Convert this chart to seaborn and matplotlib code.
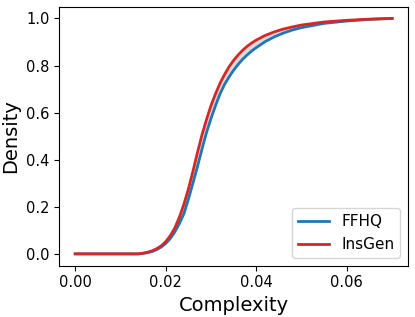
import numpy as np
import pandas as pd
import matplotlib
matplotlib.use("Agg")
import matplotlib.pyplot as plt
import seaborn as sns

# cumulative density of image complexity
complexity = [0.0, 0.005, 0.01, 0.014, 0.015, 0.016, 0.017, 0.018, 0.019,
              0.020, 0.021, 0.022, 0.023, 0.024, 0.025, 0.026, 0.027,
              0.028, 0.029, 0.030, 0.031, 0.032, 0.033, 0.034, 0.035,
              0.036, 0.037, 0.038, 0.039, 0.040, 0.042, 0.044, 0.046,
              0.048, 0.050, 0.055, 0.060, 0.065, 0.070]
ffhq = [0.0, 0.0, 0.0, 0.0, 0.002, 0.005, 0.010, 0.018, 0.029,
        0.044, 0.065, 0.093, 0.128, 0.170, 0.232, 0.300, 0.370,
        0.445, 0.515, 0.575, 0.630, 0.680, 0.720, 0.752, 0.780,
        0.805, 0.827, 0.845, 0.862, 0.876, 0.902, 0.922, 0.938,
        0.951, 0.961, 0.979, 0.989, 0.996, 1.0]
insgen = [0.0, 0.0, 0.0, 0.0, 0.003, 0.007, 0.013, 0.022, 0.034,
          0.052, 0.077, 0.110, 0.155, 0.210, 0.275, 0.350, 0.430,
          0.505, 0.570, 0.630, 0.680, 0.725, 0.762, 0.795, 0.822,
          0.845, 0.865, 0.882, 0.896, 0.908, 0.928, 0.943, 0.955,
          0.964, 0.972, 0.985, 0.992, 0.997, 1.0]

df = pd.DataFrame({
    "Complexity": complexity * 2,
    "Density": ffhq + insgen,
    "Dataset": ["FFHQ"] * len(complexity) + ["InsGen"] * len(complexity),
})

fig, ax = plt.subplots(figsize=(4.15, 3.17), dpi=100)
fig.subplots_adjust(left=0.143, right=0.983, top=0.979, bottom=0.162)

ax.fill_between(complexity, ffhq, insgen, color="lightgray", alpha=0.8, lw=0)
sns.lineplot(data=df, x="Complexity", y="Density", hue="Dataset",
             palette=["tab:blue", "tab:red"], linewidth=2, ax=ax)

ax.set_xticks([0.0, 0.02, 0.04, 0.06])
ax.set_yticks([0.0, 0.2, 0.4, 0.6, 0.8, 1.0])
ax.set_xlabel("Complexity", fontsize=14)
ax.set_ylabel("Density", fontsize=14)
ax.tick_params(labelsize=10.5)
ax.legend(title=None, loc="lower right", fontsize=11)

fig.savefig("out.png", dpi=100)
